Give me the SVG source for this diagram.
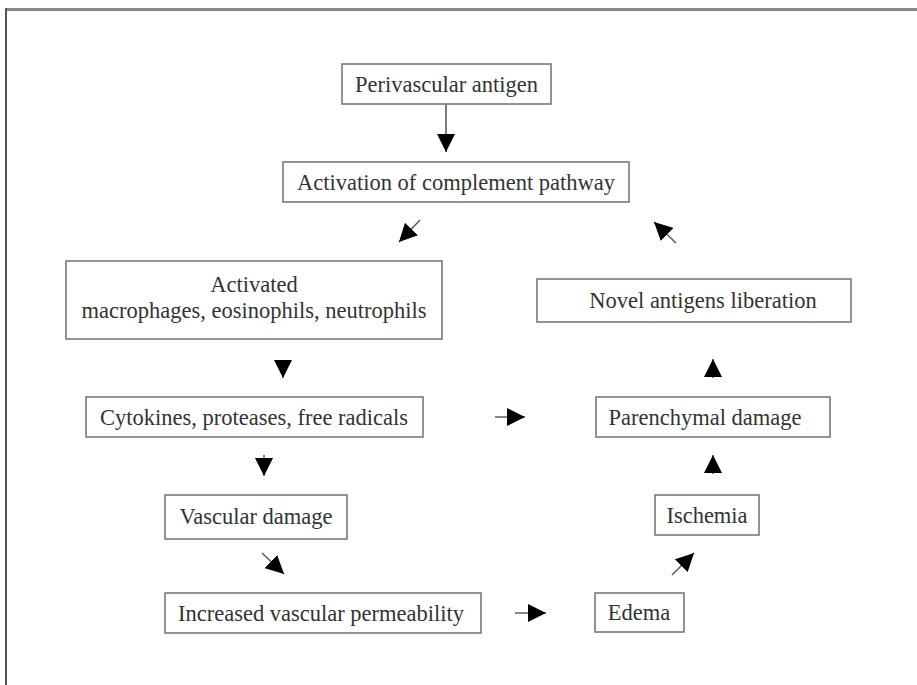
<svg xmlns="http://www.w3.org/2000/svg" width="917" height="685" viewBox="0 0 917 685">
<style>
.box{fill:#fff;stroke:#7a7a7a;stroke-width:1.6}
.t{font-family:"Liberation Serif","Times New Roman",serif;font-size:22.5px;fill:#333;text-anchor:middle}
.c{stroke:#555;stroke-width:1.4;fill:none}
.c2{stroke:#444;stroke-width:1.4;fill:none}
</style>
<defs>
<marker id="ah" viewBox="0 0 10 10" refX="10" refY="5" markerUnits="userSpaceOnUse" markerWidth="18" markerHeight="18" orient="auto">
<path d="M0,0 L10,5 L0,10 z" fill="#000"/>
</marker>
</defs>
<rect width="917" height="685" fill="#fff"/>
<g id="frame">
<line x1="5" y1="9.5" x2="917" y2="9.5" stroke="#8a8a8a" stroke-width="3"/>
<line x1="6" y1="8" x2="6" y2="685" stroke="#555" stroke-width="2"/>
</g>
<g id="connectors">
<line class="c2" x1="446" y1="104" x2="446" y2="152" marker-end="url(#ah)"/>
<line class="c" x1="420" y1="220" x2="399" y2="242" marker-end="url(#ah)"/>
<line class="c" x1="676" y1="243" x2="654" y2="222" marker-end="url(#ah)"/>
<line class="c" x1="283" y1="360" x2="283" y2="378" marker-end="url(#ah)"/>
<line class="c" x1="713" y1="378" x2="713" y2="359" marker-end="url(#ah)"/>
<line class="c" x1="495" y1="417" x2="525" y2="417" marker-end="url(#ah)"/>
<line class="c" x1="264" y1="455" x2="264" y2="476" marker-end="url(#ah)"/>
<line class="c" x1="713" y1="474" x2="713" y2="455" marker-end="url(#ah)"/>
<line class="c" x1="262" y1="553" x2="284" y2="574" marker-end="url(#ah)"/>
<line class="c" x1="672" y1="575" x2="694" y2="553" marker-end="url(#ah)"/>
<line class="c" x1="515" y1="613" x2="546" y2="613" marker-end="url(#ah)"/>
</g>
<g id="n-perivascular">
<rect class="box" x="342" y="64" width="209" height="40"/>
<text class="t" x="446.5" y="91.5">Perivascular antigen</text>
</g>
<g id="n-activation">
<rect class="box" x="283" y="162" width="346" height="40"/>
<text class="t" x="456" y="189.5">Activation of complement pathway</text>
</g>
<g id="n-activated">
<rect class="box" x="66" y="261" width="376" height="78"/>
<text class="t" x="254" y="292">Activated</text>
<text class="t" x="254" y="318">macrophages, eosinophils, neutrophils</text>
</g>
<g id="n-novel">
<rect class="box" x="537" y="279" width="314" height="43"/>
<text class="t" x="703" y="307.5">Novel antigens liberation</text>
</g>
<g id="n-cytokines">
<rect class="box" x="86" y="397" width="337" height="40"/>
<text class="t" x="254" y="424.5">Cytokines, proteases, free radicals</text>
</g>
<g id="n-parenchymal">
<rect class="box" x="596" y="397" width="234" height="40"/>
<text class="t" x="705" y="424.5">Parenchymal damage</text>
</g>
<g id="n-vascular">
<rect class="box" x="165" y="495" width="182" height="44"/>
<text class="t" x="256" y="524">Vascular damage</text>
</g>
<g id="n-ischemia">
<rect class="box" x="655" y="495" width="104" height="40"/>
<text class="t" x="707" y="522.5">Ischemia</text>
</g>
<g id="n-increased">
<rect class="box" x="165" y="593" width="316" height="40"/>
<text class="t" x="321" y="620.5">Increased vascular permeability</text>
</g>
<g id="n-edema">
<rect class="box" x="595" y="593" width="89" height="39"/>
<text class="t" x="639" y="620">Edema</text>
</g>
</svg>
